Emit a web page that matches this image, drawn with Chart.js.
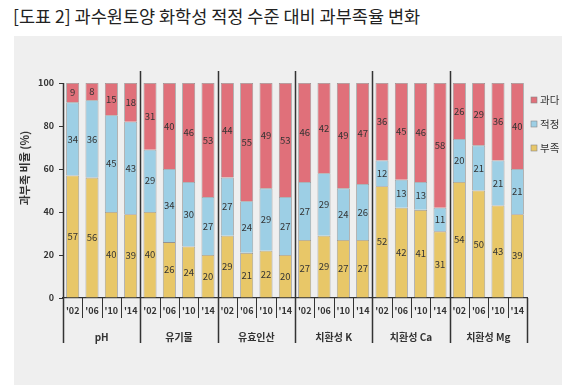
<!DOCTYPE html>
<html><head><meta charset="utf-8">
<script src="https://cdn.jsdelivr.net/npm/chart.js@4/dist/chart.umd.min.js"></script>
<style>
html,body{margin:0;padding:0;background:#fff;width:580px;height:385px;overflow:hidden;}
#title{position:absolute;left:13px;top:3px;font-family:"Noto Sans CJK KR";font-size:17.5px;color:#222;white-space:nowrap;font-weight:400;}
#panel{position:absolute;left:14px;top:36px;width:548px;height:349px;background:#efefef;}
#wrap{position:absolute;left:0;top:0;width:580px;height:385px;}
</style></head>
<body>
<div id="title">[도표 2] 과수원토양 화학성 적정 수준 대비 과부족율 변화</div>
<div id="panel"></div>
<div id="wrap"><canvas id="c" width="580" height="385"></canvas></div>
<script>
const groups = ["pH","유기물","유효인산","치환성 K","치환성 Ca","치환성 Mg"];
const years = ["'02","'06","'10","'14"];
const shortage = [57,56,40,39, 40,26,24,20, 29,21,22,20, 27,29,27,27, 52,42,41,31, 54,50,43,39];
const optimal  = [34,36,45,43, 29,34,30,27, 27,24,29,27, 27,29,24,26, 12,13,13,11, 20,21,21,21];
const excess   = [ 9, 8,15,18, 31,40,46,53, 44,55,49,53, 46,42,49,47, 36,45,46,58, 26,29,36,40];
const yTitle = "과부족 비율 (%)";

const labels = [];
groups.forEach(() => years.forEach(y => labels.push(y)));

const FONT = "'Noto Sans CJK KR', 'Noto Sans', sans-serif";
const INK = '#333';

const overlay = {
  id:'overlay',
  afterDatasetsDraw(chart){
    const ctx = chart.ctx;
    ctx.save();
    ctx.font = "9.5px " + FONT;
    ctx.fillStyle = INK;
    ctx.textAlign = 'center';
    ctx.textBaseline = 'middle';
    chart.data.datasets.forEach((ds, di) => {
      const meta = chart.getDatasetMeta(di);
      meta.data.forEach((el, i) => {
        const v = ds.data[i];
        const yc = (el.y + el.base) / 2;
        ctx.fillText(String(v), el.x, yc);
      });
    });
    ctx.restore();
  },
  afterDraw(chart){
    const ctx = chart.ctx, xs = chart.scales.x, ys = chart.scales.y;
    const n = labels.length;
    const step = xs.getPixelForValue(1) - xs.getPixelForValue(0);
    const bottom = ys.getPixelForValue(0);
    const top = ys.getPixelForValue(100);
    ctx.save();
    ctx.strokeStyle = INK;
    for (let i = 0; i <= n; i++) {
      const x = Math.round(xs.getPixelForValue(0) - step/2 + i*step) + 0.5;
      let y0 = bottom, y1 = bottom + 20, lw = 1;
      if (i === 0) { y0 = top; y1 = bottom + 45; lw = 1.5; }
      else if (i === n) { y0 = bottom; y1 = bottom + 45; lw = 1.5; }
      else if (i % 4 === 0) { y0 = top - 12; y1 = bottom + 45; lw = 1.5; }
      ctx.lineWidth = lw;
      ctx.beginPath(); ctx.moveTo(x, y0); ctx.lineTo(x, y1); ctx.stroke();
    }
    ctx.font = "bold 10px " + FONT;
    ctx.fillStyle = INK;
    ctx.textAlign = 'center';
    ctx.textBaseline = 'middle';
    groups.forEach((g, gi) => {
      const xc = (xs.getPixelForValue(gi*4) + xs.getPixelForValue(gi*4+3)) / 2;
      ctx.fillText(g, xc, bottom + 39);
    });
    ctx.save();
    ctx.translate(25, 168);
    ctx.rotate(-Math.PI/2);
    ctx.font = "bold 11px " + FONT;
    ctx.fillText(yTitle, 0, 0);
    ctx.restore();
    const items = [2,1,0];
    ctx.textAlign = 'left';
    ctx.font = "10.5px " + FONT;
    items.forEach((di, k) => {
      const ds = chart.data.datasets[di];
      const y = 100 + k*24;
      ctx.fillStyle = ds.backgroundColor;
      ctx.fillRect(531, y-3, 6, 6);
      ctx.strokeStyle = '#888';
      ctx.lineWidth = 0.6;
      ctx.strokeRect(531, y-3, 6, 6);
      ctx.fillStyle = INK;
      ctx.fillText(ds.label, 540, y);
    });
    ctx.restore();
  }
};

new Chart(document.getElementById('c'), {
  type:'bar',
  data:{
    labels: labels,
    datasets:[
      {label:'부족', data:shortage, backgroundColor:'#E8C768', borderColor:'rgba(110,110,110,0.7)', borderWidth:0.8},
      {label:'적정', data:optimal, backgroundColor:'#9DCFE5', borderColor:'rgba(110,110,110,0.7)', borderWidth:0.8},
      {label:'과다', data:excess, backgroundColor:'#E0707A', borderColor:'rgba(110,110,110,0.7)', borderWidth:0.8}
    ]
  },
  options:{
    responsive:false,
    animation:false,
    devicePixelRatio:1,
    layout:{padding:{left:23, right:53, top:83, bottom:37}},
    barPercentage:0.67,
    categoryPercentage:1.0,
    plugins:{legend:{display:false}, tooltip:{enabled:false}, title:{display:false}},
    scales:{
      x:{
        stacked:true,
        offset:true,
        grid:{display:false, drawTicks:false},
        border:{display:true, color:INK, width:1.2},
        ticks:{font:{family:FONT, size:9, weight:'bold'}, color:INK, padding:7, maxRotation:0, autoSkip:false},
        afterFit(s){ s.height = 50; }
      },
      y:{
        stacked:true,
        min:0, max:100,
        ticks:{stepSize:20, font:{family:FONT, size:9, weight:'bold'}, color:INK, padding:5},
        grid:{display:true, drawOnChartArea:false, drawTicks:true, tickLength:4, color:INK, lineWidth:1},
        border:{display:false},
        afterFit(s){ s.width = 40; }
      }
    }
  },
  plugins:[overlay]
});
</script>
</body></html>
